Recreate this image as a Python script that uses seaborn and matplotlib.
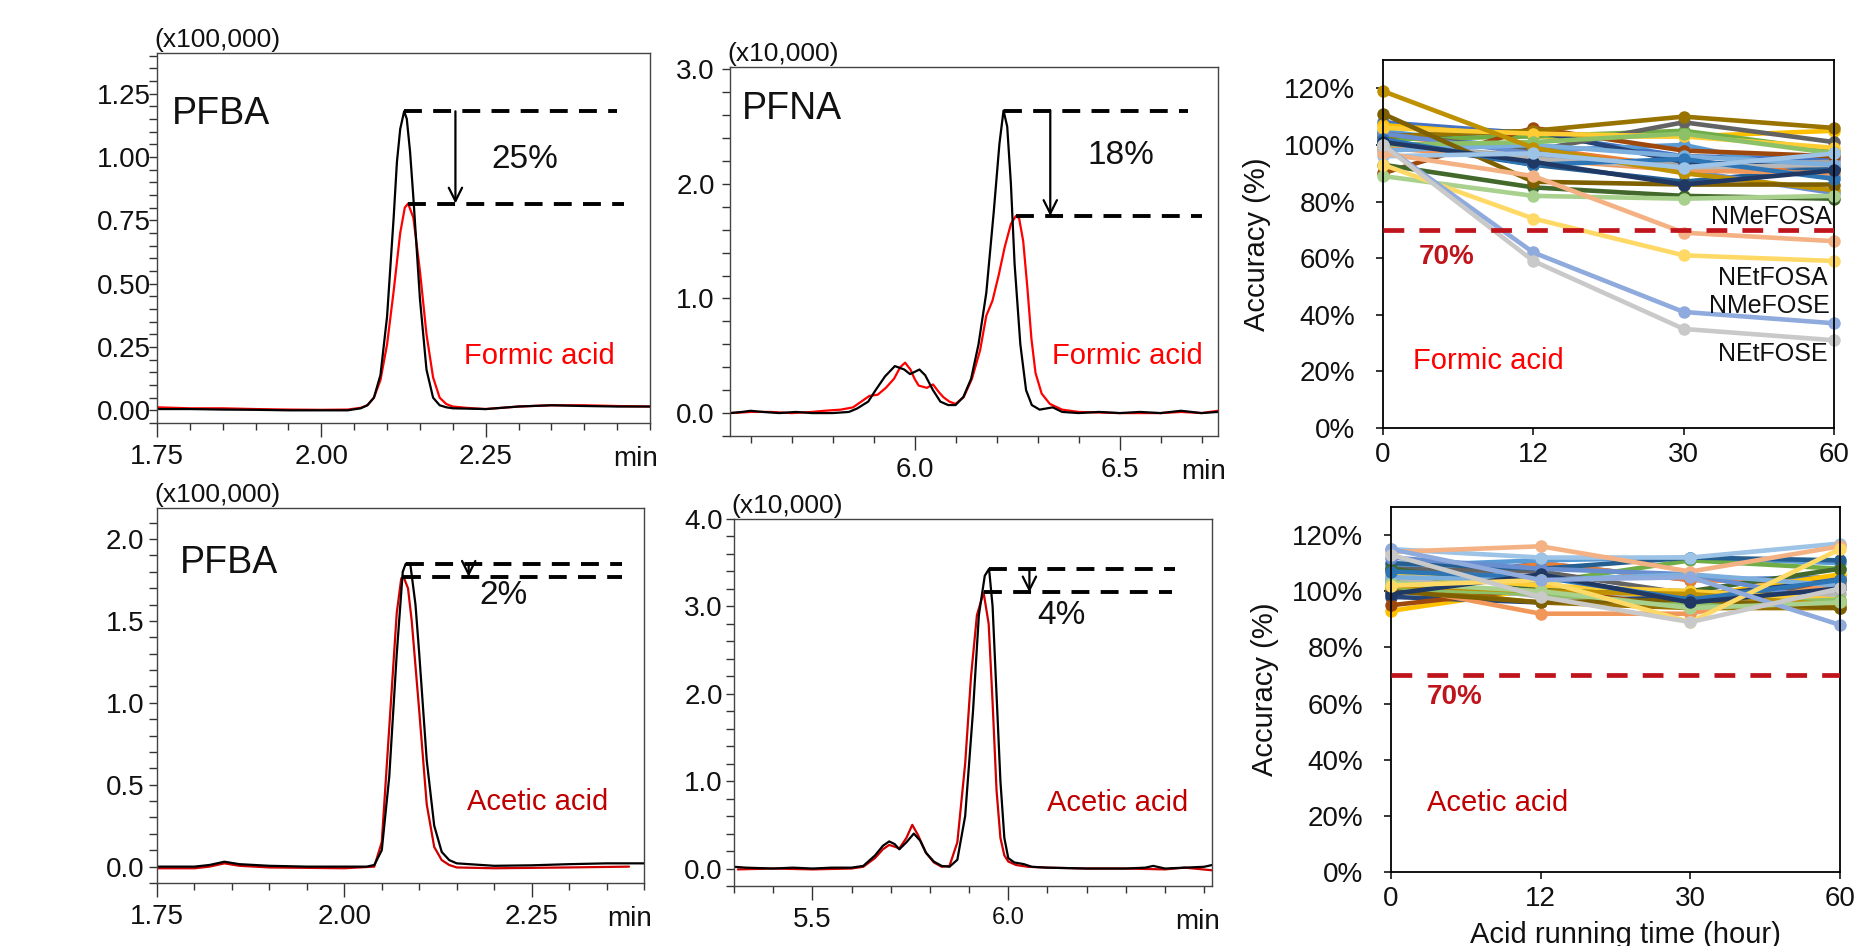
import numpy as np
import pandas as pd
import matplotlib
matplotlib.use("Agg")
import matplotlib.pyplot as plt
from matplotlib.ticker import MultipleLocator
import seaborn as sns

sns.set_theme(style="white")
plt.rcParams["font.family"] = ["Liberation Sans", "DejaVu Sans"]

# ---------------- chromatogram data ----------------
# Panel A: PFBA, formic acid, intensity in x100,000
pfba_fa_t_black = [1.75, 1.80, 1.85, 1.90, 1.95, 2.00, 2.04, 2.06, 2.07, 2.08, 2.09, 2.10, 2.11, 2.115, 2.12,
                   2.126, 2.13, 2.135, 2.14, 2.15, 2.16, 2.17, 2.18, 2.19, 2.20, 2.25, 2.30, 2.35, 2.40, 2.45, 2.50]
pfba_fa_y_black = [0.005, 0.005, 0.003, 0.002, 0.0, 0.0, 0.0, 0.008, 0.02, 0.05, 0.14, 0.37, 0.76, 0.98, 1.11,
                   1.18, 1.15, 1.02, 0.84, 0.44, 0.16, 0.05, 0.02, 0.012, 0.008, 0.005, 0.015, 0.02, 0.017, 0.015, 0.015]
pfba_fa_t_red = [1.75, 1.80, 1.85, 1.90, 1.95, 2.00, 2.04, 2.06, 2.07, 2.08, 2.09, 2.10, 2.11, 2.12, 2.127,
                 2.132, 2.14, 2.15, 2.16, 2.17, 2.18, 2.19, 2.20, 2.22, 2.25, 2.30, 2.35, 2.40, 2.45, 2.50]
pfba_fa_y_red = [0.012, 0.008, 0.008, 0.005, 0.003, 0.002, 0.003, 0.01, 0.02, 0.05, 0.12, 0.26, 0.47, 0.70, 0.80,
                 0.816, 0.76, 0.55, 0.30, 0.13, 0.05, 0.025, 0.015, 0.01, 0.005, 0.015, 0.02, 0.02, 0.017, 0.015]

# Panel B: PFNA, formic acid, intensity in x10,000
pfna_fa_t_black = [5.55, 5.58, 5.60, 5.63, 5.67, 5.71, 5.75, 5.80, 5.84, 5.86, 5.887, 5.905, 5.928, 5.952, 5.975,
                   5.989, 6.012, 6.026, 6.045, 6.063, 6.082, 6.10, 6.119, 6.138, 6.156, 6.175, 6.193, 6.207, 6.217,
                   6.226, 6.235, 6.244, 6.258, 6.272, 6.286, 6.305, 6.337, 6.36, 6.40, 6.45, 6.50, 6.55, 6.60, 6.65,
                   6.70, 6.74]
pfna_fa_y_black = [0.0, 0.01, 0.02, 0.01, 0.0, 0.01, 0.0, 0.0, 0.01, 0.04, 0.10, 0.20, 0.32, 0.41, 0.38,
                   0.34, 0.38, 0.33, 0.20, 0.10, 0.07, 0.07, 0.14, 0.30, 0.60, 1.05, 1.75, 2.35, 2.64,
                   2.50, 2.00, 1.30, 0.60, 0.20, 0.07, 0.03, 0.05, 0.01, 0.0, 0.01, 0.0, 0.01, 0.0, 0.02,
                   0.0, 0.01]
pfna_fa_t_red = [5.55, 5.60, 5.65, 5.70, 5.75, 5.78, 5.82, 5.85, 5.87, 5.89, 5.91, 5.93, 5.95, 5.965, 5.977,
                 5.99, 6.00, 6.01, 6.03, 6.045, 6.06, 6.07, 6.085, 6.10, 6.12, 6.14, 6.16, 6.175, 6.19, 6.205,
                 6.22, 6.235, 6.247, 6.255, 6.265, 6.275, 6.285, 6.295, 6.31, 6.33, 6.36, 6.40, 6.50, 6.60, 6.65,
                 6.70, 6.74]
pfna_fa_y_red = [0.0, 0.01, 0.01, 0.0, 0.01, 0.02, 0.03, 0.05, 0.10, 0.15, 0.16, 0.22, 0.30, 0.40, 0.44,
                 0.38, 0.30, 0.24, 0.22, 0.25, 0.18, 0.14, 0.10, 0.08, 0.14, 0.30, 0.55, 0.85, 0.98, 1.20,
                 1.45, 1.65, 1.72, 1.70, 1.50, 1.10, 0.65, 0.35, 0.17, 0.08, 0.03, 0.01, 0.0, 0.0, 0.01,
                 0.0, 0.02]

# Panel C: PFBA, acetic acid, intensity in x100,000
pfba_aa_t_black = [1.75, 1.80, 1.82, 1.84, 1.86, 1.90, 1.95, 2.00, 2.03, 2.04, 2.05, 2.06, 2.07, 2.078, 2.082,
                   2.088, 2.095, 2.10, 2.11, 2.12, 2.13, 2.14, 2.15, 2.20, 2.25, 2.30, 2.35, 2.40]
pfba_aa_y_black = [0.0, 0.0, 0.01, 0.03, 0.015, 0.005, 0.0, 0.0, 0.0, 0.01, 0.10, 0.55, 1.30, 1.80, 1.85,
                   1.85, 1.60, 1.30, 0.65, 0.25, 0.09, 0.04, 0.02, 0.005, 0.008, 0.015, 0.02, 0.02]
pfba_aa_t_red = [1.75, 1.80, 1.82, 1.84, 1.86, 1.90, 2.00, 2.04, 2.05, 2.06, 2.07, 2.076, 2.079, 2.085, 2.09,
                 2.10, 2.11, 2.12, 2.13, 2.14, 2.15, 2.20, 2.30, 2.38]
pfba_aa_y_red = [-0.01, -0.01, 0.0, 0.02, 0.005, -0.005, -0.01, 0.0, 0.15, 0.85, 1.55, 1.76, 1.77, 1.70, 1.50,
                 0.95, 0.38, 0.12, 0.04, 0.01, -0.005, -0.01, -0.005, 0.0]

# Panel D: PFNA, acetic acid, intensity in x10,000
pfna_aa_t_black = [5.30, 5.33, 5.40, 5.45, 5.50, 5.55, 5.60, 5.63, 5.66, 5.68, 5.696, 5.71, 5.722, 5.74, 5.759,
                   5.775, 5.79, 5.81, 5.83, 5.85, 5.87, 5.89, 5.91, 5.925, 5.94, 5.951, 5.96, 5.97, 5.98, 5.99,
                   6.00, 6.015, 6.04, 6.06, 6.10, 6.20, 6.30, 6.35, 6.37, 6.40, 6.45, 6.50, 6.52]
pfna_aa_y_black = [0.02, 0.01, 0.0, 0.01, 0.0, 0.01, 0.01, 0.03, 0.15, 0.26, 0.31, 0.28, 0.22, 0.30, 0.40,
                   0.32, 0.18, 0.08, 0.03, 0.02, 0.10, 0.60, 1.80, 2.90, 3.35, 3.43, 3.00, 2.00, 1.00, 0.35,
                   0.12, 0.07, 0.05, 0.02, 0.01, 0.0, 0.0, 0.01, 0.03, 0.0, 0.01, 0.02, 0.04]
pfna_aa_t_red = [5.31, 5.40, 5.50, 5.60, 5.63, 5.66, 5.68, 5.696, 5.71, 5.722, 5.74, 5.755, 5.77, 5.79, 5.81,
                 5.83, 5.85, 5.87, 5.89, 5.905, 5.92, 5.937, 5.95, 5.96, 5.97, 5.98, 5.99, 6.00, 6.02, 6.05,
                 6.10, 6.20, 6.30, 6.40, 6.45, 6.52]
pfna_aa_y_red = [-0.01, 0.0, -0.01, 0.0, 0.02, 0.12, 0.22, 0.27, 0.25, 0.23, 0.35, 0.50, 0.38, 0.18, 0.07,
                 0.02, 0.03, 0.30, 1.20, 2.20, 2.90, 3.16, 2.80, 1.90, 0.90, 0.35, 0.15, 0.08, 0.04, 0.02,
                 0.01, 0.0, 0.0, -0.01, 0.01, -0.02]

# ---------------- accuracy data ----------------
hours = [0, 12, 30, 60]
acc_ticks = [0, 20, 40, 60, 80, 100, 120]
compounds = ["PFBA", "PFPeA", "PFHxA", "PFHpA", "PFOA", "PFNA", "PFDA", "PFUnDA", "PFDoDA", "PFTrDA",
             "PFTeDA", "PFBS", "PFPeS", "PFHxS", "PFHpS", "PFOS", "PFNS", "PFDS", "4:2 FTS", "6:2 FTS",
             "8:2 FTS", "PFOSA", "NMeFOSAA", "NEtFOSAA", "NMeFOSA", "NEtFOSA", "NMeFOSE", "NEtFOSE"]
formic_acc = [
    [108, 104, 96, 95], [103, 99, 92, 91], [100, 96, 93, 94], [107, 103, 103, 105], [105, 98, 100, 89],
    [102, 103, 105, 98], [103, 105, 94, 92], [90, 106, 98, 96], [104, 98, 108, 101], [103, 105, 110, 106],
    [101, 93, 87, 92], [93, 85, 82, 81], [104, 97, 91, 83], [99, 95, 91, 90], [101, 95, 92, 93],
    [106, 104, 103, 99], [98, 100, 96, 93], [100, 101, 104, 97], [119, 99, 90, 84], [111, 87, 86, 86],
    [89, 82, 81, 82], [102, 93, 95, 88], [101, 94, 86, 91], [96, 97, 92, 97],
    [97, 89, 69, 66], [93, 74, 61, 59], [100, 62, 41, 37], [100, 59, 35, 31]]
acetic_acc = [
    [103, 110, 104, 105], [101, 110, 104, 103], [100, 99, 97, 101], [93, 101, 98, 106], [109, 111, 112, 110],
    [104, 103, 111, 108], [98, 96, 98, 104], [95, 101, 94, 104], [108, 107, 99, 101], [101, 96, 94, 94],
    [110, 108, 112, 111], [108, 101, 100, 108], [112, 108, 106, 96], [102, 92, 92, 103], [105, 98, 95, 99],
    [106, 102, 100, 97], [105, 104, 106, 102], [101, 99, 95, 97], [102, 100, 99, 95], [100, 96, 97, 94],
    [103, 100, 94, 96], [107, 105, 97, 104], [99, 106, 96, 101], [115, 112, 112, 117],
    [114, 116, 107, 116], [102, 104, 89, 115], [115, 104, 105, 88], [113, 98, 89, 101]]
labelled = ["NMeFOSA", "NEtFOSA", "NMeFOSE", "NEtFOSE"]

palette = ["#4472C4", "#ED7D31", "#A5A5A5", "#FFC000", "#5B9BD5", "#70AD47", "#264478", "#9E480E",
           "#636363", "#997300", "#255E91", "#43682B", "#698ED0", "#F1975A", "#B7B7B7", "#FFCD33",
           "#7CAFDD", "#8CC168", "#BF9000", "#7F6000", "#A9D18E", "#2E75B6", "#1F3864", "#9DC3E6",
           "#F4B183", "#FFD966", "#8FAADC", "#C9C9C9"]

# ---------------- figure ----------------
W, H = 1876, 946
fig = plt.figure(figsize=(W / 100, H / 100), dpi=100)


def add_ax(x0, y0, x1, y1):
    return fig.add_axes([x0 / W, 1 - y1 / H, (x1 - x0) / W, (y1 - y0) / H])


TICK_FS = 20


def chrom(ax, tb, yb, tr, yr, red, xlim, ylim, xmaj, xminor, ymaj, yminor, xfmt, yfmt, ypad,
          scale_txt, name, name_xy, pct, pct_xy, acid, acid_xy, acid_color, dash_end, arrow_x):
    sns.lineplot(x=tr, y=yr, color=red, linewidth=1.6, estimator=None, errorbar=None, sort=False, ax=ax)
    sns.lineplot(x=tb, y=yb, color="black", linewidth=1.6, estimator=None, errorbar=None, sort=False, ax=ax)
    ax.set_xlim(*xlim)
    ax.set_ylim(*ylim)
    ax.set_xticks(xmaj, [xfmt.format(v) for v in xmaj])
    ax.set_yticks(ymaj, [yfmt.format(v) for v in ymaj])
    ax.xaxis.set_minor_locator(MultipleLocator(xminor))
    ax.yaxis.set_minor_locator(MultipleLocator(yminor))
    ax.tick_params(axis="x", which="major", direction="out", length=10, width=1, bottom=True,
                   labelsize=TICK_FS, pad=5, color="#333333", labelcolor="#111111")
    ax.tick_params(axis="x", which="minor", direction="out", length=5, width=1, bottom=True, color="#333333")
    ax.tick_params(axis="y", which="both", direction="out", length=6, width=1, left=True, color="#333333")
    ax.tick_params(axis="y", which="major", labelsize=TICK_FS, pad=ypad, labelcolor="#111111")
    for s in ax.spines.values():
        s.set_visible(True)
        s.set_color("#444444")
        s.set_linewidth(1.0)
    ax.set_xlabel("")
    ax.set_ylabel("")
    ax.annotate("min", xy=(1, 0), xycoords="axes fraction", xytext=(6, -31), textcoords="offset points",
                ha="right", va="baseline", fontsize=TICK_FS, color="#111111")
    ax.annotate(scale_txt, xy=(0, 1), xycoords="axes fraction", xytext=(-2, 9.5), textcoords="offset points",
                ha="left", va="center", fontsize=19, color="#111111")
    if name:
        ax.text(*name_xy, name, fontsize=27, ha="left", va="center", color="#111111")
    ax.text(*pct_xy, pct, fontsize=24, ha="left", va="center", color="#111111")
    ax.text(*acid_xy, acid, fontsize=21, ha="left", va="center", color=acid_color)
    # dashed peak-height markers, taken from the traces' maxima
    ib, ir = int(np.argmax(yb)), int(np.argmax(yr))
    top, low = yb[ib], yr[ir]
    ax.plot([tb[ib], dash_end[0]], [top, top], color="black", lw=2.8, dashes=(4.6, 2.9), zorder=4)
    ax.plot([tr[ir], dash_end[1]], [low, low], color="black", lw=2.8, dashes=(4.6, 2.9), zorder=4)
    ax.annotate("", xy=(arrow_x, low), xytext=(arrow_x, top),
                arrowprops=dict(arrowstyle="->", color="black", lw=1.6, shrinkA=0, shrinkB=0,
                                mutation_scale=24), zorder=5)


axA = add_ax(157, 53, 650, 423)
chrom(axA, pfba_fa_t_black, pfba_fa_y_black, pfba_fa_t_red, pfba_fa_y_red, "#FF0000",
      (1.75, 2.50), (-0.05, 1.41), [1.75, 2.00, 2.25], 0.05, [0, 0.25, 0.5, 0.75, 1.0, 1.25], 0.05,
      "{:.2f}", "{:.2f}", -1.5, "(x100,000)", "PFBA", (1.772, 1.17), "25%", (2.258, 0.99),
      "Formic acid", (2.217, 0.213), "#FF0000", (2.45, 2.461), 2.204)

axB = add_ax(730, 67, 1218, 436)
chrom(axB, pfna_fa_t_black, pfna_fa_y_black, pfna_fa_t_red, pfna_fa_y_red, "#FF0000",
      (5.55, 6.74), (-0.2, 3.02), [6.0, 6.5], 0.1, [0, 1, 2, 3], 0.2,
      "{:.1f}", "{:.1f}", 5, "(x10,000)", "PFNA", (5.578, 2.65), "18%", (6.421, 2.25),
      "Formic acid", (6.335, 0.50), "#FF0000", (6.667, 6.70), 6.331)

axC = add_ax(157, 508, 644, 883)
chrom(axC, pfba_aa_t_black, pfba_aa_y_black, pfba_aa_t_red, pfba_aa_y_red, "#D00000",
      (1.75, 2.40), (-0.1, 2.19), [1.75, 2.00, 2.25], 0.05, [0, 0.5, 1.0, 1.5, 2.0], 0.1,
      "{:.2f}", "{:.1f}", 3, "(x100,000)", "PFBA", (1.781, 1.857), "2%", (2.18, 1.654),
      "Acetic acid", (2.164, 0.393), "#C00000", (2.37, 2.37), 2.166)

axD = add_ax(734, 519, 1212, 886)
chrom(axD, pfna_aa_t_black, pfna_aa_y_black, pfna_aa_t_red, pfna_aa_y_red, "#D00000",
      (5.3, 6.52), (-0.2, 4.0), [5.5, 6.0], 0.1, [0, 1, 2, 3, 4], 0.2,
      "{:.1f}", "{:.1f}", 2, "(x10,000)", None, None, "4%", (6.074, 2.89),
      "Acetic acid", (6.10, 0.747), "#C00000", (6.426, 6.417), 6.054)
for lbl in axD.get_xticklabels():
    if lbl.get_text() == "6.0":
        lbl.set_fontsize(17)


def acc_panel(ax, acc, acid, acid_color, pct_xy, acid_xy):
    df = pd.DataFrame([(c, i, v) for c, row in zip(compounds, acc) for i, v in enumerate(row)],
                      columns=["compound", "pos", "acc"])
    sns.lineplot(data=df, x="pos", y="acc", hue="compound", hue_order=compounds, palette=palette,
                 marker="o", markersize=9, markeredgewidth=0, linewidth=3.3, estimator=None,
                 errorbar=None, sort=False, legend=False, ax=ax)
    for ln in ax.lines:
        ln.set_clip_on(False)
    ax.axhline(70, color="#C0141C", lw=3.4, dashes=(4.4, 3.2), zorder=4)
    ax.set_xlim(0, len(hours) - 1)
    ax.set_ylim(0, 130)
    ax.set_xticks(range(len(hours)), [str(h) for h in hours])
    ax.set_yticks(acc_ticks, [f"{v}%" for v in acc_ticks])
    ax.tick_params(axis="x", direction="out", length=5, width=1.3, bottom=True, labelsize=TICK_FS, pad=5,
                   labelcolor="#111111")
    ax.tick_params(axis="y", direction="out", length=5, width=1.3, left=True, labelsize=TICK_FS, pad=15,
                   labelcolor="#111111")
    for s in ax.spines.values():
        s.set_visible(True)
        s.set_color("black")
        s.set_linewidth(1.3)
    ax.set_xlabel("")
    ax.set_ylabel("Accuracy (%)", fontsize=21, va="center", color="#111111")
    ax.yaxis.set_label_coords(-0.28, 0.5)
    ax.text(*pct_xy, "70%", fontsize=20, fontweight="bold", color="#C0141C", ha="left", va="center")
    ax.text(*acid_xy, acid, fontsize=21, color=acid_color, ha="left", va="center")


axE = add_ax(1383, 60, 1834, 428)
acc_panel(axE, formic_acc, "Formic acid", "#FF0000", (0.235, 60.5), (0.2, 23.5))
for name, xy in zip(labelled, [(2.985, 74.5), (2.96, 53.0), (2.97, 43.2), (2.96, 26.0)]):
    axE.text(*xy, name, fontsize=18, ha="right", va="center", color="#111111", zorder=6)

axF = add_ax(1391, 507, 1840, 872)
acc_panel(axF, acetic_acc, "Acetic acid", "#C00000", (0.24, 62.5), (0.24, 24.5))
axF.set_xlabel("Acid running time (hour)", fontsize=21, va="center", color="#111111")
axF.xaxis.set_label_coords(0.523, -63 / 365)

fig.savefig("out.png", dpi=100)
